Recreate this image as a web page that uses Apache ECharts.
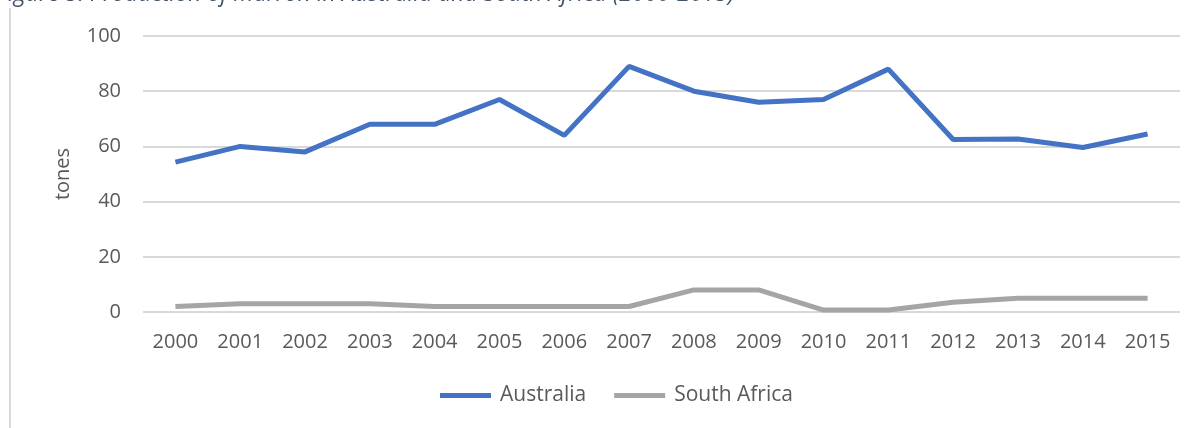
<!DOCTYPE html>
<html>
<head>
<meta charset="utf-8">
<script src="https://cdn.jsdelivr.net/npm/echarts@6/dist/echarts.min.js"></script>
<style>
    html, body { margin: 0; padding: 0; background: #fff; }
    #chart { width: 1193px; height: 428px; }
</style>
</head>
<body>
<div id="chart"></div>
<script>
// data
const years = ['2000', '2001', '2002', '2003', '2004', '2005', '2006', '2007',
               '2008', '2009', '2010', '2011', '2012', '2013', '2014', '2015'];
const australia = [54.3, 60, 58, 68, 68, 77, 64, 89, 80, 76, 77, 88, 62.5, 62.7, 59.6, 64.5];
const southAfrica = [2, 3, 3, 3, 2, 2, 2, 2, 8, 8, 0.7, 0.7, 3.5, 5, 5, 5];
const seriesNames = ['Australia', 'South Africa'];
const titleText = 'Figure 5: Production of marron in Australia and South Africa (2000-2015)';

const font = '"Open Sans", "Noto Sans", sans-serif';
const chart = echarts.init(document.getElementById('chart'));

chart.setOption({
    animation: false,
    backgroundColor: '#fff',
    graphic: [
        {
            type: 'text',
            left: -3,
            top: -17,
            style: {
                text: titleText,
                fontFamily: font,
                fontStyle: 'italic',
                fontSize: 23,
                fill: '#44546a'
            }
        },
        {
            type: 'rect',
            shape: { x: 9, y: 8, width: 2, height: 420 },
            style: { fill: '#d9d9d9' }
        }
    ],
    grid: {
        left: 143,
        right: 13,
        top: 36,
        bottom: 116,
        containLabel: false
    },
    legend: {
        bottom: 17,
        left: 435,
        itemWidth: 51,
        itemHeight: 5,
        itemGap: 28,
        icon: 'rect',
        textStyle: { fontFamily: font, fontSize: 21, color: '#595959', padding: [0, 0, 0, 4] },
        data: seriesNames
    },
    xAxis: {
        type: 'category',
        data: years,
        boundaryGap: true,
        axisLine: { show: false },
        axisTick: { show: false },
        axisLabel: { fontFamily: font, fontSize: 20, color: '#595959', margin: 20 }
    },
    yAxis: {
        type: 'value',
        min: 0,
        max: 100,
        interval: 20,
        name: 'tones',
        nameLocation: 'middle',
        nameGap: 70,
        nameTextStyle: { fontFamily: font, fontSize: 20, color: '#595959' },
        axisLine: { show: false },
        axisTick: { show: false },
        axisLabel: { fontFamily: font, fontSize: 20, color: '#595959', margin: 22 },
        splitLine: { lineStyle: { color: '#d9d9d9', width: 2 } }
    },
    series: [
        {
            name: seriesNames[0],
            type: 'line',
            data: australia,
            symbol: 'none',
            lineStyle: { color: '#4472c4', width: 5 },
            itemStyle: { color: '#4472c4' }
        },
        {
            name: seriesNames[1],
            type: 'line',
            data: southAfrica,
            symbol: 'none',
            lineStyle: { color: '#a5a5a5', width: 5 },
            itemStyle: { color: '#a5a5a5' }
        }
    ]
});
</script>
</body>
</html>
